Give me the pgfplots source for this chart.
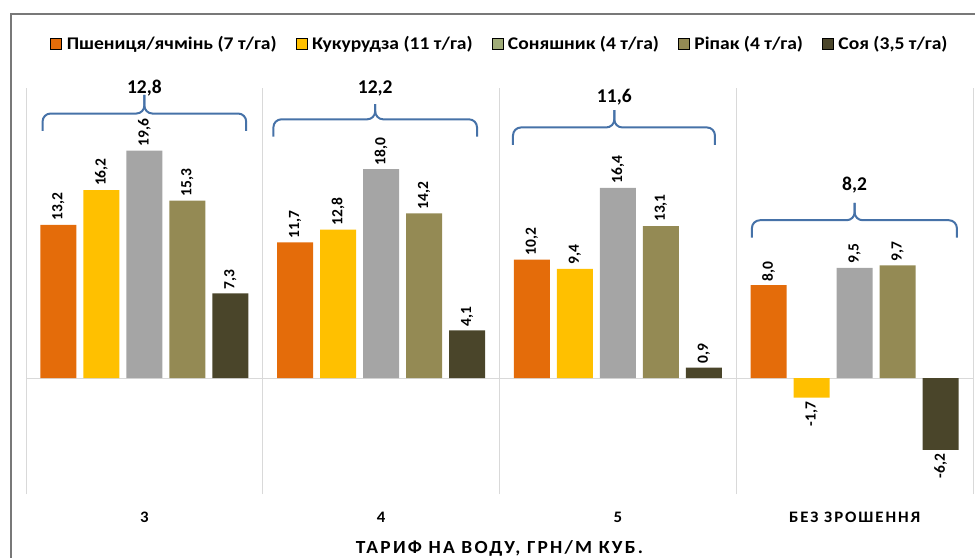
\documentclass[border=0pt]{standalone}
\usepackage{fontspec}
\setmainfont{Carlito}
\newfontfamily\spaced[LetterSpace=12,FakeStretch=1.05]{Carlito}
\newfontfamily\legfont[FakeStretch=1.1]{Carlito}
\usepackage{pgfplots}
\pgfplotsset{compat=1.18}
\usepackage{pgfplotstable}
\definecolor{cwheat}{RGB}{228,108,10}
\definecolor{ccorn}{RGB}{255,192,0}
\definecolor{csun}{RGB}{165,165,165}
\definecolor{csunleg}{RGB}{160,172,120}
\definecolor{crape}{RGB}{148,138,84}
\definecolor{csoy}{RGB}{74,69,42}
\definecolor{sepgray}{RGB}{217,217,217}
\definecolor{bracec}{RGB}{70,114,168}
\definecolor{framec}{RGB}{120,120,120}

\pgfplotstableread{
g wheat corn sun rape soy
0 13.2 16.2 19.6 15.3 7.3
1 11.7 12.8 18.0 14.2 4.1
2 10.2 9.4 16.4 13.1 0.9
3 8.0 -1.7 9.5 9.7 -6.2
}\data

\begin{document}
\begin{tikzpicture}
\begin{axis}[
  at={(26pt,64pt)}, anchor=south west,
  width=947pt, height=406pt, scale only axis,
  xmin=-0.5, xmax=3.5, ymin=-10, ymax=25,
  ybar, bar width=36pt,
  clip=false,
  axis line style={draw=none},
  xtick={0,1,2,3},
  xticklabels={3,4,5,БЕЗ ЗРОШЕННЯ},
  minor xtick={-0.5,0.5,1.5,2.5,3.5},
  xminorgrids, minor grid style={sepgray, line width=1pt},
  ytick={0}, yticklabels={},
  ymajorgrids, major grid style={sepgray, line width=1pt},
  major tick length=0pt, minor tick length=0pt,
  xticklabel style={font=\spaced\bfseries\fontsize{16}{16}\selectfont, anchor=center, yshift=-23pt},
  xlabel={ТАРИФ НА ВОДУ, ГРН/М КУБ.},
  xlabel style={at={(axis description cs:0.5,0)}, anchor=center, yshift=-54pt,
                font=\spaced\bfseries\fontsize{18.5}{18.5}\selectfont},
  legend columns=5,
  legend style={at={(axis description cs:0.5,1)}, anchor=center, yshift=44pt,
    draw=none, fill=none, font=\legfont\bfseries\fontsize{17.8}{20}\selectfont,
    nodes={inner sep=1pt},
    /tikz/every even column/.append style={column sep=18pt},
    /tikz/every odd column/.append style={column sep=4pt}},
  legend image code/.code={\fill[#1] (0pt,-5.5pt) rectangle (11pt,5.5pt);},
  nodes near coords={\pgfmathprintnumber[fixed,fixed zerofill,precision=1,use comma,assume math mode=true]{\pgfplotspointmeta}},
  visualization depends on={rawy \as \rawy},
  every node near coord/.append style={font=\bfseries\fontsize{15.5}{15.5}\selectfont, text=black, rotate=90, inner sep=4pt},
  every node near coord/.append code={\ifdim\rawy pt<0pt \pgfkeysalso{anchor=east}\else\pgfkeysalso{anchor=west}\fi},
]
\addplot[fill=cwheat, draw=none, bar shift=-86pt, forget plot] table[x=g, y=wheat] {\data};
\addplot[fill=ccorn, draw=none, bar shift=-43pt, forget plot] table[x=g, y=corn] {\data};
\addplot[fill=csun, draw=none, bar shift=0pt, forget plot] table[x=g, y=sun] {\data};
\addplot[fill=crape, draw=none, bar shift=43pt, forget plot] table[x=g, y=rape] {\data};
\addplot[fill=csoy, draw=none, bar shift=86pt, forget plot] table[x=g, y=soy] {\data};
\addlegendimage{fill=cwheat}
\addlegendimage{fill=ccorn}
\addlegendimage{fill=csunleg}
\addlegendimage{fill=crape}
\addlegendimage{fill=csoy}
\legend{Пшениця/ячмінь (7 т/га), Кукурудза (11 т/га), Соняшник (4 т/га), Ріпак (4 т/га), {Соя (3,5 т/га)}}
% average braces
\draw[bracec, line width=2pt, rounded corners=8pt] (axis cs:-0.43,21.3) -- (axis cs:-0.43,22.8) -- (axis cs:0,22.8) -- (axis cs:0,24.4);
\draw[bracec, line width=2pt, rounded corners=8pt] (axis cs:0.43,21.3) -- (axis cs:0.43,22.8) -- (axis cs:0,22.8) -- (axis cs:0,24.4);
\draw[bracec, line width=2pt, rounded corners=8pt] (axis cs:0.545,20.8) -- (axis cs:0.545,22.3) -- (axis cs:0.975,22.3) -- (axis cs:0.975,23.6);
\draw[bracec, line width=2pt, rounded corners=8pt] (axis cs:1.405,20.8) -- (axis cs:1.405,22.3) -- (axis cs:0.975,22.3) -- (axis cs:0.975,23.6);
\draw[bracec, line width=2pt, rounded corners=8pt] (axis cs:1.557,20.1) -- (axis cs:1.557,21.6) -- (axis cs:1.985,21.6) -- (axis cs:1.985,23.1);
\draw[bracec, line width=2pt, rounded corners=8pt] (axis cs:2.41,20.1) -- (axis cs:2.41,21.6) -- (axis cs:1.985,21.6) -- (axis cs:1.985,23.1);
\draw[bracec, line width=2pt, rounded corners=8pt] (axis cs:2.566,12.1) -- (axis cs:2.566,13.6) -- (axis cs:3.0,13.6) -- (axis cs:3.0,15.1);
\draw[bracec, line width=2pt, rounded corners=8pt] (axis cs:3.432,12.1) -- (axis cs:3.432,13.6) -- (axis cs:3.0,13.6) -- (axis cs:3.0,15.1);
\node[font=\bfseries\fontsize{19.5}{19.5}\selectfont] at (axis cs:0,24.95) {12,8};
\node[font=\bfseries\fontsize{19.5}{19.5}\selectfont] at (axis cs:0.975,24.95) {12,2};
\node[font=\bfseries\fontsize{19.5}{19.5}\selectfont] at (axis cs:1.985,24.2) {11,6};
\node[font=\bfseries\fontsize{19.5}{19.5}\selectfont] at (axis cs:3.0,16.6) {8,2};
\end{axis}
\fill[framec] (10pt,543pt) rectangle (975pt,545pt);
\fill[framec] (10pt,0pt) rectangle (12pt,545pt);
\pgfresetboundingbox
\path[use as bounding box] (0,0) rectangle (975pt,558pt);
\end{tikzpicture}
\end{document}
